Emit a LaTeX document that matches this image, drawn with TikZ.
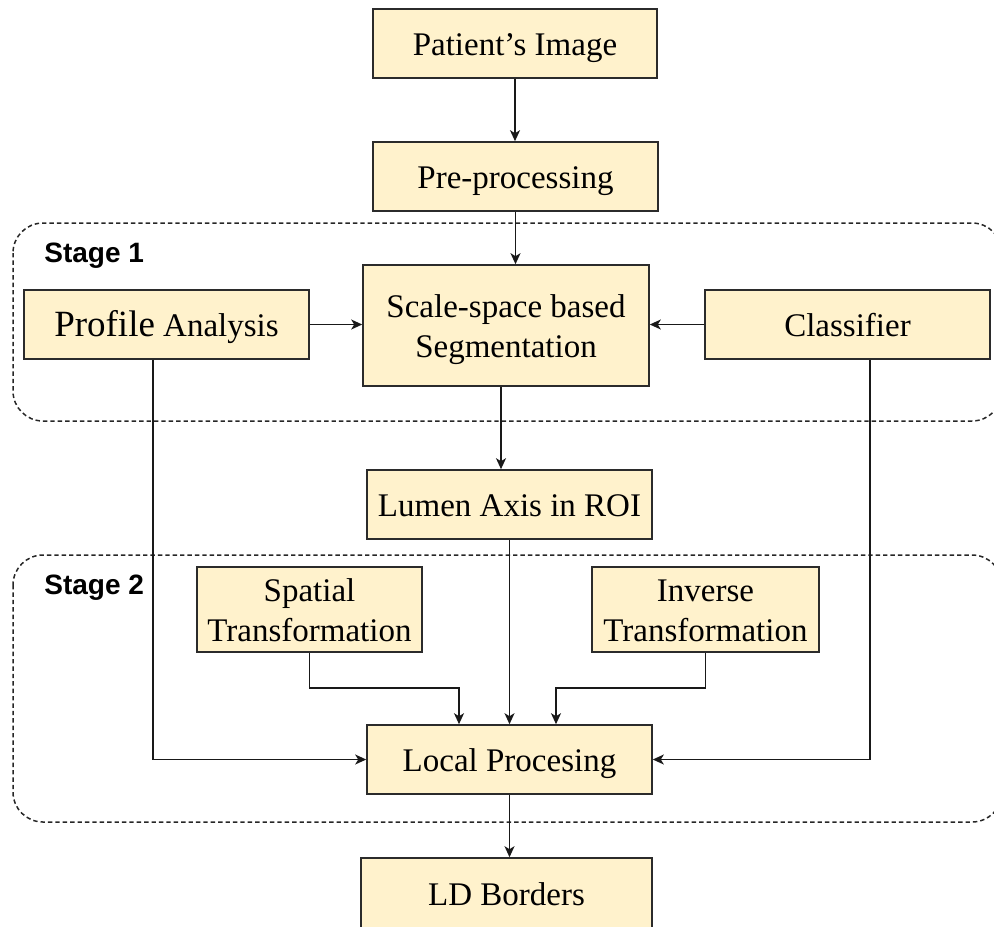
\documentclass[tikz,border=0pt]{standalone}
\usepackage{fontspec}
\setmainfont{Liberation Serif}
\newfontfamily\labelsans{Liberation Sans}
\usetikzlibrary{arrows.meta,calc}

\definecolor{boxfill}{HTML}{FFF2CC}
\definecolor{boxline}{HTML}{2B2B2B}

% fixed line height/depth so every label sits at the same place in its box
\newcommand{\linestrut}{\rule[-4pt]{0pt}{20pt}}

\tikzset{
  block/.style={draw=boxline, line width=0.8pt, fill=boxfill, inner sep=0pt,
    align=center, font=\fontsize{16.5}{20}\selectfont,
    execute at begin node=\linestrut, execute at end node=\linestrut},
  arr/.style={line width=0.75pt, draw=black!90,
    -{Stealth[length=5.5pt,width=5pt,inset=1.5pt]}},
  stagebox/.style={draw=black!85, line width=0.75pt, dash pattern=on 2.2pt off 1.5pt,
    rounded corners=15pt},
  stagelabel/.style={anchor=west, inner sep=0pt,
    font=\labelsans\bfseries\fontsize{14}{16}\selectfont}
}

\begin{document}
\begin{tikzpicture}[x=0.5pt, y=-0.5pt]
  \useasboundingbox (0,0) rectangle (994,926);
  \clip (0,0) rectangle (994,926);

  % stage frames
  \draw[stagebox] (13,223) rectangle (1002,421);
  \draw[stagebox] (13,555) rectangle (1002,822);
  \node[stagelabel] (s1) at (44,256) {Stage 1};
  \node[stagelabel] (s2) at (44,588) {Stage 2};

  % blocks
  \node[block, minimum width=142pt, minimum height=34.5pt] (pat) at (515,43.5) {Patient’s Image};
  \node[block, minimum width=142.5pt, minimum height=34.5pt] (pre) at (515.5,176.5) {Pre-processing};
  \node[block, minimum width=143pt, minimum height=60.5pt] (seg) at (506,325.5)
    {\linestrut Scale-space based\\Segmentation};
  \node[block, minimum width=142.5pt, minimum height=34.5pt] (prof) at (166.5,324.5)
    {{\fontsize{18.5}{20}\selectfont Profile} Analysis};
  \node[block, minimum width=142.5pt, minimum height=34.5pt] (cls) at (847.5,324.5) {Classifier};
  \node[block, minimum width=142.5pt, minimum height=34.5pt] (lum) at (509.5,504.5) {Lumen Axis in ROI};
  \node[block, minimum width=112.5pt, minimum height=42.5pt] (spa) at (309.5,609.5)
    {\linestrut Spatial\\Transformation};
  \node[block, minimum width=113.5pt, minimum height=42.5pt] (inv) at (705.5,609.5)
    {\linestrut Inverse\\Transformation};
  \node[block, minimum width=142.5pt, minimum height=34.5pt] (loc) at (509.5,759.5) {Local Procesing};
  \node[block, minimum width=145.5pt, minimum height=35pt] (ld) at (506.5,893) {LD Borders};

  % routing columns and rows
  \coordinate (pa) at (153,0);
  \coordinate (ca) at (870,0);
  \coordinate (sx) at (501,0);
  \coordinate (la) at (459,0);
  \coordinate (lb) at (556,0);
  \coordinate (jy) at (0,688);

  % connectors
  \draw[arr] (pat.south) -- (pat.south |- pre.north);
  \draw[arr] (pre.south) -- (pre.south |- seg.north);
  \draw[arr] (prof.east) -- (prof.east -| seg.west);
  \draw[arr] (cls.west) -- (cls.west -| seg.east);
  \draw[arr] (seg.south -| sx) -- (lum.north -| sx);
  \draw[arr] (lum.south) -- (loc.north);
  \draw[arr] (prof.south -| pa) |- (loc.west);
  \draw[arr] (cls.south -| ca) |- (loc.east);
  \draw[arr] (spa.south) |- (jy -| la) -- (loc.north -| la);
  \draw[arr] (inv.south) |- (jy -| lb) -- (loc.north -| lb);
  \draw[arr] (loc.south) -- (loc.south |- ld.north);
\end{tikzpicture}
\end{document}
